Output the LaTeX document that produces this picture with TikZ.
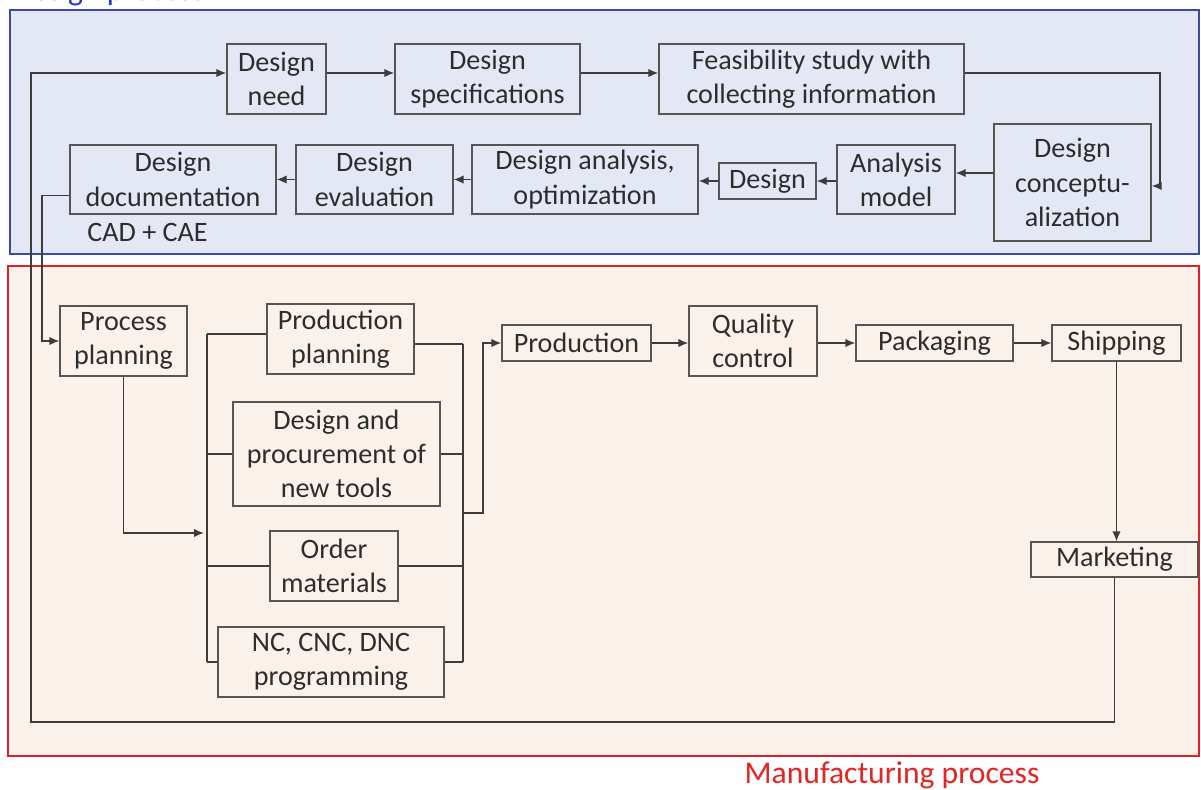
\documentclass[tikz,border=0pt]{standalone}
\usepackage{fontspec}
\setmainfont{Carlito}
\usetikzlibrary{arrows.meta,positioning}
\definecolor{azulfondo}{RGB}{228,232,244}
\definecolor{azulborde}{RGB}{62,72,168}
\definecolor{azultitulo}{RGB}{40,50,200}
\definecolor{rojofondo}{RGB}{250,241,234}
\definecolor{rojoborde}{RGB}{222,32,44}
\definecolor{rojotitulo}{RGB}{230,36,36}
\definecolor{grisborde}{RGB}{85,85,85}
\definecolor{grislinea}{RGB}{60,60,60}
\definecolor{textogris}{RGB}{45,45,45}
\tikzset{
  caja/.style 2 args={draw=grisborde, line width=0.8pt, minimum width=#1*0.02cm,
    minimum height=#2*0.02cm, inner sep=0pt, align=center, text=textogris,
    font=\fontsize{16}{19.5}\selectfont},
  texto/.style={inner sep=0pt, text=textogris, font=\fontsize{16}{19.5}\selectfont},
  flecha/.style={line width=0.8pt, draw=grislinea, -{Latex[length=2mm,width=1.7mm]}},
  linea/.style={line width=0.8pt, draw=grislinea},
}
\begin{document}
\begin{tikzpicture}[x=0.02cm,y=-0.02cm]
        \useasboundingbox (0,0) rectangle (1201,789);
        % zonas
        \draw[fill=azulfondo, draw=azulborde, line width=1pt] (10,10) rectangle (1199,254);
        \draw[fill=rojofondo, draw=rojoborde, line width=1.2pt] (8,266) rectangle (1199,756);
        \node[font=\fontsize{18}{21}\selectfont, text=azultitulo, anchor=base west, inner sep=0pt] (tdis) at (13,0.5) {Design process};
        \node[font=\fontsize{18}{21}\selectfont, text=rojotitulo, anchor=base, inner sep=0pt] (tman) at (892,783) {Manufacturing process};
        % proceso de diseno
        \node[caja={99}{70}] (dneed) at (276.5,79) {Design\\need};
        \node[caja={185}{70}] (dspec) at (487.5,79) {Design\\specifications};
        \node[caja={305}{70}] (dfeas) at (811.5,79) {Feasibility study with\\collecting information};
        \node[caja={157}{117}] (dconc) at (1072.5,182.5) {Design\\conceptu-\\alization};
        \node[caja={118}{69}] (amodel) at (896,179.5) {Analysis\\model};
        \node[caja={97}{36}] (design) at (767.5,181) {Design};
        \node[caja={226}{69}] (danal) at (585,179.5) {Design analysis,\\optimization};
        \node[caja={157}{69}] (deval) at (374.5,179.5) {Design\\evaluation};
        \node[caja={206}{69}] (ddoc) at (173,179.5) {Design\\documentation};
        \node[texto, anchor=west] (cadcae) at (87,232) {CAD + CAE};
        % proceso de fabricacion
        \node[caja={127}{70}] (procp) at (123.5,341) {Process\\planning};
        \node[caja={147}{70}] (prodp) at (340.5,339) {Production\\planning};
        \node[caja={207}{104}] (tools) at (336.5,454) {Design and\\procurement of\\new tools};
        \node[caja={128}{70}] (order) at (334,566) {Order\\materials};
        \node[caja={226}{70}] (ncprog) at (331,662) {NC, CNC, DNC\\programming};
        \node[caja={149}{36}] (prod) at (576.5,343) {Production};
        \node[caja={128}{70}] (qual) at (753,341) {Quality\\control};
        \node[caja={157}{36}] (pack) at (934.5,343) {Packaging};
        \node[caja={129}{36}] (ship) at (1116.5,343) {Shipping};
        \node[caja={167}{35}] (mkt) at (1114.5,559.5) {Marketing};
        % flechas de diseno
        \draw[flecha] ([yshift=0.12cm]dneed.east) -- ([yshift=0.12cm]dspec.west);
        \draw[flecha] ([yshift=0.12cm]dspec.east) -- ([yshift=0.12cm]dfeas.west);
        \coordinate (c1) at (1160,120);
        \draw[flecha] ([yshift=0.12cm]dfeas.east) -| (c1) |- ([yshift=-0.07cm]dconc.east);
        \draw[flecha] ([yshift=0.13cm]amodel.east -| dconc.west) -- ([yshift=0.13cm]amodel.east);
        \draw[flecha] (amodel.west |- design.east) -- (design.east);
        \draw[flecha] (design.west) -- (design.west -| danal.east);
        \draw[flecha] (danal) -- (deval);
        \draw[flecha] (deval) -- (ddoc);
        % retorno desde marketing
        \coordinate (c2) at (31,722);
        \draw[flecha] (mkt.south) |- (c2) |- ([yshift=0.12cm]dneed.west);
        % documentacion a planificacion
        \coordinate (c3) at (42,260);
        \draw[flecha] ([yshift=-0.32cm]ddoc.west) -| (c3) |- (procp.west);
        \coordinate (c4) at (204,533);
        \draw[flecha] (procp.south) |- (c4);
        % barras
        \coordinate (bl1) at (207,334);
        \coordinate (bl2) at (207,662);
        \coordinate (br1) at (463,344);
        \coordinate (br2) at (463,662);
        \draw[linea] (bl1) -- (bl2);
        \draw[linea] (br1) -- (br2);
        \draw[linea] (bl1) -- (bl1 -| prodp.west);
        \draw[linea] (br1) -- (br1 -| prodp.east);
        \foreach \n in {tools,order,ncprog}
        \draw[linea] (\n.west -| bl1) -- (\n.west) (\n.east) -- (\n.east -| br1);
        \coordinate (c5) at (463,513);
        \coordinate (c6) at (483,513);
        \draw[flecha] (c5) -- (c6) |- (prod.west);
        % cadena final
        \draw[flecha] (prod.east) -- (prod.east -| qual.west);
        \draw[flecha] (qual.east |- pack.west) -- (pack.west);
        \draw[flecha] (pack) -- (ship);
        \draw[flecha] (ship.south) -- (ship.south |- mkt.north);
\end{tikzpicture}
\end{document}
